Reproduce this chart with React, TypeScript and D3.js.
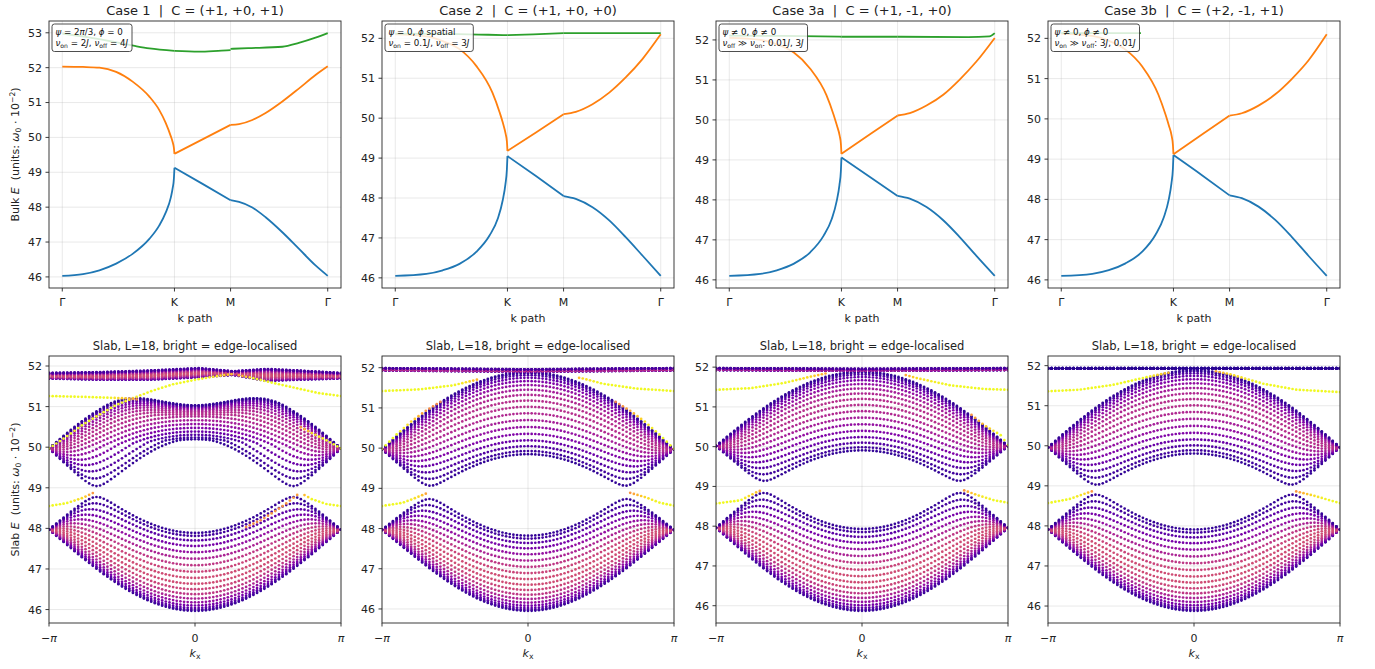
import React, { useLayoutEffect, useRef, useState, useMemo } from "react";
import * as d3 from "d3";

const FONT = "'DejaVu Sans', 'Liberation Sans', sans-serif";

// ---------------- text content ----------------
const CASE_TITLES = [
  "Case 1  |  C = (+1, +0, +1)",
  "Case 2  |  C = (+1, +0, +0)",
  "Case 3a  |  C = (+1, -1, +0)",
  "Case 3b  |  C = (+2, -1, +1)",
];
const SLAB_TITLE = "Slab, L=18, bright = edge-localised";

type Seg = [string, string]; // [text, kind] kind: n normal, i italic, s subscript, u superscript
const NOTES: Seg[][][] = [
  [
    [["ψ", "i"], [" = 2", "n"], ["π", "i"], ["/3, ", "n"], ["ϕ", "i"], [" = 0", "n"]],
    [["ν", "i"], ["on", "s"], [" = 2", "n"], ["J", "i"], [", ", "n"], ["ν", "i"], ["off", "s"], [" = 4", "n"], ["J", "i"]],
  ],
  [
    [["ψ", "i"], [" = 0, ", "n"], ["ϕ", "i"], [" spatial", "n"]],
    [["ν", "i"], ["on", "s"], [" = 0.1", "n"], ["J", "i"], [", ", "n"], ["ν", "i"], ["off", "s"], [" = 3", "n"], ["J", "i"]],
  ],
  [
    [["ψ", "i"], [" ≠ 0, ", "n"], ["ϕ", "i"], [" ≠ 0", "n"]],
    [["ν", "i"], ["off", "s"], [" ≫ ", "n"], ["ν", "i"], ["on", "s"], [": 0.01", "n"], ["J", "i"], [", 3", "n"], ["J", "i"]],
  ],
  [
    [["ψ", "i"], [" ≠ 0, ", "n"], ["ϕ", "i"], [" ≠ 0", "n"]],
    [["ν", "i"], ["on", "s"], [" ≫ ", "n"], ["ν", "i"], ["off", "s"], [": 3", "n"], ["J", "i"], [", 0.01", "n"], ["J", "i"]],
  ],
];
const BULK_YLABEL: Seg[] = [["Bulk ", "n"], ["E", "i"], ["  (units: ", "n"], ["ω", "i"], ["0", "s"], [" · 10", "n"], ["−2", "u"], [")", "n"]];
const SLAB_YLABEL: Seg[] = [["Slab ", "n"], ["E", "i"], ["  (units: ", "n"], ["ω", "i"], ["0", "s"], [" · 10", "n"], ["−2", "u"], [")", "n"]];

// ---------------- bulk bands along Γ–K–M–Γ ----------------
// x = cumulative path length (fraction of the whole path), y = energy
const PATH_TICKS = [0, 0.4226, 0.634, 1];
const PATH_LABELS = ["Γ", "K", "M", "Γ"];

type P = [number, number];
const BULK_1_LOW: P[] = [[0, 46.03], [0.078, 46.08], [0.14, 46.19], [0.203, 46.38], [0.265, 46.66], [0.328, 47.09], [0.365, 47.47], [0.39, 47.85], [0.409, 48.28], [0.416, 48.55], [0.4205, 48.82], [0.4226, 49.13], [0.53, 48.66], [0.634, 48.2], [0.666, 48.15], [0.716, 47.99], [0.766, 47.71], [0.829, 47.28], [0.891, 46.81], [0.954, 46.33], [1, 46.03]];
const BULK_1_MID: P[] = [[0, 52.03], [0.078, 52.02], [0.14, 52.0], [0.203, 51.88], [0.265, 51.6], [0.328, 51.17], [0.365, 50.79], [0.39, 50.41], [0.409, 50.03], [0.416, 49.86], [0.4205, 49.7], [0.4226, 49.53], [0.53, 49.95], [0.634, 50.36], [0.666, 50.38], [0.716, 50.5], [0.766, 50.7], [0.829, 51.03], [0.891, 51.4], [0.954, 51.79], [1, 52.04]];
const BULK_1_TOP: P[] = [[0, 52.98], [0.1, 52.87], [0.2, 52.73], [0.268, 52.63], [0.328, 52.55], [0.4226, 52.48], [0.515, 52.46], [0.6, 52.49], [0.634, 52.5], [0.634, 52.54], [0.7, 52.56], [0.829, 52.6], [0.891, 52.71], [0.954, 52.86], [1, 52.99]];

const BULK_2_LOW: P[] = [[0, 46.05], [0.117, 46.1], [0.179, 46.19], [0.242, 46.35], [0.305, 46.65], [0.355, 47.06], [0.386, 47.48], [0.405, 47.95], [0.415, 48.35], [0.4205, 48.72], [0.4226, 49.05], [0.53, 48.55], [0.634, 48.05], [0.68, 47.98], [0.743, 47.77], [0.806, 47.44], [0.868, 47.02], [0.931, 46.56], [1, 46.05]];
const BULK_2_MID: P[] = [[0, 52.1], [0.117, 52.05], [0.179, 51.93], [0.242, 51.73], [0.305, 51.31], [0.366, 50.64], [0.393, 50.15], [0.405, 49.89], [0.416, 49.6], [0.4205, 49.42], [0.4226, 49.18], [0.53, 49.64], [0.634, 50.1], [0.68, 50.16], [0.743, 50.35], [0.806, 50.64], [0.868, 51.02], [0.931, 51.48], [1, 52.1]];
const BULK_2_TOP: P[] = [[0, 52.12], [0.2, 52.11], [0.35, 52.09], [0.4226, 52.08], [0.52, 52.1], [0.634, 52.13], [0.8, 52.13], [1, 52.13]];

const BULK_3A_LOW: P[] = [[0, 46.1], [0.117, 46.15], [0.179, 46.24], [0.242, 46.4], [0.305, 46.69], [0.355, 47.1], [0.386, 47.52], [0.405, 47.98], [0.415, 48.37], [0.4205, 48.73], [0.4226, 49.06], [0.53, 48.57], [0.634, 48.1], [0.68, 48.03], [0.743, 47.82], [0.806, 47.49], [0.868, 47.07], [0.931, 46.6], [1, 46.1]];
const BULK_3A_MID: P[] = [[0, 52.05], [0.117, 52.0], [0.179, 51.89], [0.242, 51.69], [0.305, 51.28], [0.366, 50.62], [0.393, 50.13], [0.405, 49.87], [0.416, 49.6], [0.4205, 49.4], [0.4226, 49.15], [0.53, 49.64], [0.634, 50.11], [0.68, 50.17], [0.743, 50.36], [0.806, 50.63], [0.868, 51.01], [0.931, 51.46], [1, 52.05]];
const BULK_3A_TOP: P[] = [[0, 52.11], [0.2, 52.1], [0.4226, 52.08], [0.634, 52.08], [0.9, 52.07], [0.98, 52.09], [1, 52.17]];

const BULK_3B_LOW: P[] = [[0, 46.1], [0.117, 46.15], [0.179, 46.24], [0.242, 46.41], [0.305, 46.7], [0.355, 47.12], [0.386, 47.55], [0.405, 48.0], [0.415, 48.4], [0.4205, 48.76], [0.4226, 49.1], [0.53, 48.6], [0.634, 48.1], [0.68, 48.03], [0.743, 47.82], [0.806, 47.49], [0.868, 47.07], [0.931, 46.6], [1, 46.1]];
const BULK_3B_MID: P[] = [[0, 52.12], [0.117, 52.06], [0.179, 51.94], [0.242, 51.72], [0.305, 51.3], [0.366, 50.6], [0.393, 50.1], [0.405, 49.84], [0.416, 49.57], [0.4205, 49.36], [0.4226, 49.12], [0.53, 49.61], [0.634, 50.08], [0.68, 50.14], [0.743, 50.33], [0.806, 50.61], [0.868, 50.99], [0.931, 51.45], [1, 52.1]];
const BULK_3B_TOP: P[] = [[0, 52.13], [0.3, 52.13], [0.6, 52.13], [1, 52.13]];

const BULK = [
  [BULK_1_LOW, BULK_1_MID, BULK_1_TOP],
  [BULK_2_LOW, BULK_2_MID, BULK_2_TOP],
  [BULK_3A_LOW, BULK_3A_MID, BULK_3A_TOP],
  [BULK_3B_LOW, BULK_3B_MID, BULK_3B_TOP],
];
const BAND_COLORS = ["#1f77b4", "#ff7f0e", "#2ca02c"];

// ---------------- slab (ribbon) spectrum ----------------
// Ribbon of L unit cells, standing-wave phases θn = nπ/(L+1).
// Each dispersive group: E = g(s) + h(s)·cos kx, with s = |1 + 2cos(kx/2)e^{iθ}|,
// g and h given at s = 0, 1, 2, 3.
const SLAB_L = 18;
const SLAB_NK = 81;
const S_KNOTS = [0, 1, 2, 3];
const SLAB_LOWER_G = [
  [48.92, 47.942, 46.964, 45.986],
  [48.86, 47.908, 46.956, 46.004],
  [49.008, 47.959, 46.91, 45.861],
  [48.958, 47.924, 46.89, 45.856],
];
const SLAB_LOWER_H = [
  [-0.027, -0.027, -0.027, -0.027],
  [-0.06, -0.06, -0.06, -0.06],
  [0, 0, 0, 0],
  [0.014, 0.014, 0.014, 0.014],
];
const SLAB_MIDDLE_G = [
  [48.85, 50.075, 50.855, 51.635],
  [48.857, 49.896, 50.935, 51.974],
  [48.94, 49.948, 50.956, 51.964],
  [48.81, 49.869, 50.928, 51.987],
];
const SLAB_MIDDLE_H = [
  [0, 0.105, -0.1, -0.6],
  [-0.074, -0.074, -0.074, -0.074],
  [-0.068, -0.068, -0.068, -0.068],
  [-0.09, -0.09, -0.09, -0.09],
];
// narrow upper group: centre and half-width vs kx/π
const SLAB_FLAT_KX = [
  [-1, -0.65, -0.31, 0.03, 0.26, 0.49, 0.71, 1],
  [-1, 0, 1],
  [-1, 0, 1],
  [-1, 0, 1],
];
const SLAB_FLAT_CENTER = [
  [51.76, 51.755, 51.775, 51.835, 51.825, 51.78, 51.775, 51.76],
  [51.96, 51.93, 51.96],
  [51.95, 51.93, 51.95],
  [51.93, 51.93, 51.93],
];
const SLAB_FLAT_HALF = [
  [0.07, 0.095, 0.115, 0.115, 0.045, 0.15, 0.115, 0.07],
  [0.03, 0.03, 0.03],
  [0.025, 0.025, 0.025],
  [0.008, 0.008, 0.008],
];
// edge weight = base + amp·sin²θ  for [lower, middle, upper] groups
const SLAB_WEIGHT = [
  [[0.06, 0.46], [0.06, 0.36], [0.1, 0.42]],
  [[0.06, 0.46], [0.06, 0.36], [0.1, 0.36]],
  [[0.06, 0.46], [0.06, 0.36], [0.1, 0.32]],
  [[0.06, 0.46], [0.06, 0.36], [0.04, 0.08]],
];

// edge-localised branches: [kx/π, E, edge weight]
type EP = [number, number, number];
const EDGE_1: EP[][] = [
  [[-1, 49.97, 1], [-0.88, 50.26, 1], [-0.77, 50.55, 1], [-0.66, 50.79, 1], [-0.54, 51.04, 1], [-0.43, 51.2, 0.96], [-0.3, 51.38, 1], [-0.15, 51.55, 1], [0, 51.66, 1], [0.15, 51.75, 0.96], [0.25, 51.8, 0.85]],
  [[-1, 51.26, 1], [-0.77, 51.24, 1], [-0.6, 51.22, 1], [-0.45, 51.2, 0.85], [-0.4, 51.18, 0.7]],
  [[0.3, 51.77, 0.8], [0.4, 51.7, 1], [0.55, 51.57, 1], [0.7, 51.45, 1], [0.85, 51.33, 1], [1, 51.26, 1]],
  [[0.72, 50.5, 0.75], [0.8, 50.35, 0.92], [0.9, 50.17, 1], [1, 49.97, 1]],
  [[-1, 48.55, 1], [-0.88, 48.62, 1], [-0.77, 48.75, 0.92], [-0.7, 48.87, 0.75]],
  [[0.33, 48.0, 0.7], [0.45, 48.2, 0.72], [0.535, 48.39, 0.75], [0.62, 48.6, 0.75], [0.72, 48.88, 0.78]],
  [[0.74, 48.84, 0.82], [0.8, 48.72, 1], [0.9, 48.6, 1], [1, 48.55, 1]],
];
const EDGE_2: EP[][] = [
  [[-1, 51.42, 1], [-0.744, 51.46, 1], [-0.515, 51.56, 1], [-0.4, 51.66, 0.92], [-0.33, 51.72, 0.8]],
  [[0.33, 51.76, 0.8], [0.378, 51.73, 0.94], [0.515, 51.6, 1], [0.744, 51.48, 1], [1, 51.42, 1]],
  [[-1, 49.98, 1], [-0.9, 50.34, 1], [-0.8, 50.66, 0.92], [-0.7, 50.93, 0.75], [-0.6, 51.15, 0.7]],
  [[0.6, 51.15, 0.7], [0.7, 50.93, 0.8], [0.8, 50.66, 0.94], [0.9, 50.34, 1], [1, 49.98, 1]],
  [[-1, 48.56, 1], [-0.858, 48.64, 1], [-0.744, 48.8, 0.92], [-0.686, 48.89, 0.75]],
  [[0.698, 48.89, 0.75], [0.812, 48.77, 0.94], [0.904, 48.64, 1], [1, 48.57, 1]],
];
const EDGE_3A: EP[][] = [
  [[-1, 51.43, 1], [-0.764, 51.47, 1], [-0.535, 51.6, 1], [-0.352, 51.76, 0.92], [-0.25, 51.84, 0.8]],
  [[0.3, 51.8, 0.8], [0.38, 51.72, 0.94], [0.609, 51.54, 1], [0.837, 51.45, 1], [1, 51.43, 1]],
  [[0.75, 50.8, 0.75], [0.837, 50.54, 0.86], [0.95, 50.29, 1], [1, 50.04, 1]],
  [[-1, 48.57, 1], [-0.833, 48.65, 1], [-0.719, 48.86, 0.86], [-0.69, 48.9, 0.75]],
  [[0.7, 48.9, 0.75], [0.792, 48.78, 0.94], [0.906, 48.65, 1], [1, 48.59, 1]],
];
const EDGE_3B: EP[][] = [
  [[-1, 51.36, 1], [-0.783, 51.4, 1], [-0.555, 51.52, 1], [-0.327, 51.71, 1], [-0.166, 51.83, 0.86]],
  [[0.15, 51.86, 0.8], [0.244, 51.79, 0.92], [0.473, 51.55, 1], [0.7, 51.4, 1], [1, 51.34, 1]],
  [[-1, 48.57, 1], [-0.852, 48.67, 1], [-0.737, 48.82, 0.92], [-0.7, 48.86, 0.75]],
  [[0.7, 48.86, 0.75], [0.815, 48.76, 0.94], [0.93, 48.64, 1], [1, 48.57, 1]],
];
const EDGES = [EDGE_1, EDGE_2, EDGE_3A, EDGE_3B];

// ---------------- layout ----------------
const W = 1375;
const H = 669;
const COL_LEFT = [49, 382, 716, 1048];
const PANEL_W = 292;
const TOP_Y0 = 21;
const TOP_H = 267;
const BOT_Y0 = 356;
const BOT_H = 267;
const TICK = 3.5;
const GRID = "#b0b0b0";
const SPINE = "#262626";
const DOT_R = 1.35;

type Dot = { kx: number; e: number; w: number };

function slabStates(ci: number): { bulk: Dot[]; edge: Dot[] } {
  const gL = d3.scaleLinear(S_KNOTS, SLAB_LOWER_G[ci]);
  const hL = d3.scaleLinear(S_KNOTS, SLAB_LOWER_H[ci]);
  const gM = d3.scaleLinear(S_KNOTS, SLAB_MIDDLE_G[ci]);
  const hM = d3.scaleLinear(S_KNOTS, SLAB_MIDDLE_H[ci]);
  const fC = d3.scaleLinear(SLAB_FLAT_KX[ci], SLAB_FLAT_CENTER[ci]);
  const fH = d3.scaleLinear(SLAB_FLAT_KX[ci], SLAB_FLAT_HALF[ci]);
  const [wl, wm, wf] = SLAB_WEIGHT[ci];
  const bulk: Dot[] = [];
  const kxs = d3.range(SLAB_NK).map((i) => -Math.PI + (2 * Math.PI * i) / (SLAB_NK - 1));
  for (const kx of kxs) {
    const cp = Math.cos(kx / 2);
    const ck = Math.cos(kx);
    const col: Dot[] = [];
    for (let n = 1; n <= SLAB_L; n++) {
      const th = (n * Math.PI) / (SLAB_L + 1);
      const s = Math.sqrt(Math.max(0, 1 + 4 * cp * cp + 4 * cp * Math.cos(th)));
      const sn2 = Math.sin(th) ** 2;
      col.push({ kx, e: gL(s) + hL(s) * ck, w: wl[0] + wl[1] * sn2 });
      col.push({ kx, e: gM(s) + hM(s) * ck, w: wm[0] + wm[1] * sn2 });
      col.push({ kx, e: fC(kx / Math.PI) + fH(kx / Math.PI) * Math.cos(th), w: wf[0] + wf[1] * sn2 });
    }
    col.sort((a, b) => a.e - b.e);
    bulk.push(...col);
  }
  const edge: Dot[] = [];
  for (const br of EDGES[ci]) {
    const ks = br.map((d) => d[0]);
    const eS = d3.scaleLinear(ks, br.map((d) => d[1]));
    const wS = d3.scaleLinear(ks, br.map((d) => d[2]));
    for (const kx of kxs) {
      const u = kx / Math.PI;
      if (u >= ks[0] - 1e-9 && u <= ks[ks.length - 1] + 1e-9) {
        edge.push({ kx, e: eS(u), w: wS(u) });
      }
    }
  }
  return { bulk, edge };
}

function MathSegs({ segs, size }: { segs: Seg[]; size: number }) {
  const out: React.ReactNode[] = [];
  let shift = 0;
  segs.forEach(([t, k], j) => {
    if (k === "s" || k === "u") {
      const dy = k === "s" ? size * 0.22 : -size * 0.38;
      out.push(
        <tspan key={j} dy={dy - shift} fontSize={size * 0.7}>
          {t}
        </tspan>
      );
      shift = dy;
    } else {
      out.push(
        <tspan key={j} dy={-shift} fontStyle={k === "i" ? "italic" : "normal"} fontSize={size}>
          {t}
        </tspan>
      );
      shift = 0;
    }
  });
  return <>{out}</>;
}

function NoteBox({ x, y, lines }: { x: number; y: number; lines: Seg[][] }) {
  const ref = useRef<SVGGElement>(null);
  const [bw, setBw] = useState(0);
  useLayoutEffect(() => {
    if (ref.current) setBw(ref.current.getBBox().width);
  }, []);
  return (
    <g>
      {bw > 0 && (
        <rect x={x} y={y} width={bw + 7} height={27.5} rx={2.5} fill="#fff" fillOpacity={0.82} stroke="#3a3a3a" strokeWidth={0.9} />
      )}
      <g ref={ref}>
        {lines.map((ln, i) => (
          <text key={i} x={x + 3.5} y={y + 10.5 + i * 11.5} fontSize={8.7} fill="#111" style={{ whiteSpace: "pre" }}>
            <MathSegs segs={ln} size={8.7} />
          </text>
        ))}
      </g>
    </g>
  );
}

function BulkPanel({ ci }: { ci: number }) {
  const x0 = COL_LEFT[ci];
  const bands = BULK[ci];
  const vals = bands.flat().map((d) => d[1]);
  const lo = d3.min(vals) as number;
  const hi = d3.max(vals) as number;
  const pad = (hi - lo) * 0.05;
  const y = d3.scaleLinear([lo - pad, hi + pad], [TOP_Y0 + TOP_H, TOP_Y0]);
  const x = d3.scaleLinear([-0.05, 1.05], [x0, x0 + PANEL_W]);
  const yt = d3.range(Math.ceil(lo - pad), Math.floor(hi + pad) + 1);
  const line = d3
    .line<P>()
    .x((d) => x(d[0]))
    .y((d) => y(d[1]))
    .curve(d3.curveMonotoneX);
  const pieces = (pts: P[]) =>
    PATH_TICKS.slice(0, -1).map((a, j) => {
      const b = PATH_TICKS[j + 1];
      const seg = pts.filter((p) => p[0] >= a - 1e-9 && p[0] <= b + 1e-9);
      // at a duplicated M node keep the left value for K–M and the right value for M–Γ
      if (j === 1) return seg.filter((p, k) => !(p[0] === b && k > 0 && seg[k - 1][0] === b));
      if (j === 2) return seg.filter((p, k) => !(p[0] === a && k + 1 < seg.length && seg[k + 1][0] === a));
      return seg;
    });
  const clip = `bulk-clip-${ci}`;
  return (
    <g>
      <defs>
        <clipPath id={clip}>
          <rect x={x0} y={TOP_Y0} width={PANEL_W} height={TOP_H} />
        </clipPath>
      </defs>
      {yt.map((v) => (
        <line key={"gy" + v} x1={x0} x2={x0 + PANEL_W} y1={y(v)} y2={y(v)} stroke={GRID} strokeOpacity={0.35} strokeWidth={0.8} />
      ))}
      {PATH_TICKS.map((v, i) => (
        <line key={"gx" + i} x1={x(v)} x2={x(v)} y1={TOP_Y0} y2={TOP_Y0 + TOP_H} stroke={GRID} strokeOpacity={0.35} strokeWidth={0.8} />
      ))}
      <g clipPath={`url(#${clip})`}>
        {bands.map((pts, b) =>
          pieces(pts).map((seg, j) => (
            <path key={b + "-" + j} d={line(seg) || ""} fill="none" stroke={BAND_COLORS[b]} strokeWidth={1.8} strokeLinejoin="round" />
          ))
        )}
      </g>
      <rect x={x0} y={TOP_Y0} width={PANEL_W} height={TOP_H} fill="none" stroke={SPINE} strokeWidth={0.9} />
      {yt.map((v) => (
        <g key={"ty" + v}>
          <line x1={x0 - TICK} x2={x0} y1={y(v)} y2={y(v)} stroke={SPINE} strokeWidth={0.9} />
          <text x={x0 - TICK - 3.5} y={y(v)} dy="0.36em" textAnchor="end" fontSize={11} fill="#222">
            {v}
          </text>
        </g>
      ))}
      {PATH_TICKS.map((v, i) => (
        <g key={"tx" + i}>
          <line x1={x(v)} x2={x(v)} y1={TOP_Y0 + TOP_H} y2={TOP_Y0 + TOP_H + TICK} stroke={SPINE} strokeWidth={0.9} />
          <text x={x(v)} y={305.5} textAnchor="middle" fontSize={11} fill="#222">
            {PATH_LABELS[i]}
          </text>
        </g>
      ))}
      <text x={x0 + PANEL_W / 2} y={322} textAnchor="middle" fontSize={11} fill="#222">
        k path
      </text>
      <text x={x0 + PANEL_W / 2} y={15} textAnchor="middle" fontSize={13} fill="#222" style={{ whiteSpace: "pre" }}>
        {CASE_TITLES[ci]}
      </text>
      <NoteBox x={x0 + 3} y={TOP_Y0 + 3} lines={NOTES[ci]} />
    </g>
  );
}

function SlabPanel({ ci }: { ci: number }) {
  const x0 = COL_LEFT[ci];
  const { bulk, edge } = useMemo(() => slabStates(ci), [ci]);
  const es = [...bulk, ...edge].map((d) => d.e);
  const lo = d3.min(es) as number;
  const hi = d3.max(es) as number;
  const pad = (hi - lo) * 0.05;
  const y = d3.scaleLinear([lo - pad, hi + pad], [BOT_Y0 + BOT_H, BOT_Y0]);
  const x = d3.scaleLinear([-Math.PI, Math.PI], [x0, x0 + PANEL_W]);
  const yt = d3.range(Math.ceil(lo - pad), Math.floor(hi + pad) + 1);
  const xt = [-Math.PI, 0, Math.PI];
  const xl: Seg[][] = [[["−", "n"], ["π", "i"]], [["0", "n"]], [["π", "i"]]];
  const clip = `slab-clip-${ci}`;
  const color = d3.interpolatePlasma;
  return (
    <g>
      <defs>
        <clipPath id={clip}>
          <rect x={x0} y={BOT_Y0} width={PANEL_W} height={BOT_H} />
        </clipPath>
      </defs>
      {yt.map((v) => (
        <line key={"gy" + v} x1={x0} x2={x0 + PANEL_W} y1={y(v)} y2={y(v)} stroke={GRID} strokeOpacity={0.35} strokeWidth={0.8} />
      ))}
      {xt.map((v, i) => (
        <line key={"gx" + i} x1={x(v)} x2={x(v)} y1={BOT_Y0} y2={BOT_Y0 + BOT_H} stroke={GRID} strokeOpacity={0.35} strokeWidth={0.8} />
      ))}
      <g clipPath={`url(#${clip})`}>
        {bulk.map((d, i) => (
          <circle key={"b" + i} cx={x(d.kx)} cy={y(d.e)} r={DOT_R} fill={color(d.w)} />
        ))}
        {edge.map((d, i) => (
          <circle key={"e" + i} cx={x(d.kx)} cy={y(d.e)} r={DOT_R} fill={color(d.w)} />
        ))}
      </g>
      <rect x={x0} y={BOT_Y0} width={PANEL_W} height={BOT_H} fill="none" stroke={SPINE} strokeWidth={0.9} />
      {yt.map((v) => (
        <g key={"ty" + v}>
          <line x1={x0 - TICK} x2={x0} y1={y(v)} y2={y(v)} stroke={SPINE} strokeWidth={0.9} />
          <text x={x0 - TICK - 3.5} y={y(v)} dy="0.36em" textAnchor="end" fontSize={11} fill="#222">
            {v}
          </text>
        </g>
      ))}
      {xt.map((v, i) => (
        <g key={"tx" + i}>
          <line x1={x(v)} x2={x(v)} y1={BOT_Y0 + BOT_H} y2={BOT_Y0 + BOT_H + TICK} stroke={SPINE} strokeWidth={0.9} />
          <text x={x(v)} y={641.5} textAnchor="middle" fontSize={11} fill="#222">
            <MathSegs segs={xl[i]} size={11} />
          </text>
        </g>
      ))}
      <text x={x0 + PANEL_W / 2} y={657} textAnchor="middle" fontSize={11} fill="#222">
        <MathSegs segs={[["k", "i"], ["x", "s"]]} size={11} />
      </text>
      <text x={x0 + PANEL_W / 2} y={350} textAnchor="middle" fontSize={11.5} fill="#222">
        {SLAB_TITLE}
      </text>
    </g>
  );
}

export default function App() {
  return (
    <svg
      width={W}
      height={H}
      viewBox={`0 0 ${W} ${H}`}
      style={{ position: "absolute", left: 0, top: 0, background: "#fff" }}
      fontFamily={FONT}
    >
      <rect width={W} height={H} fill="#fff" />
      {[0, 1, 2, 3].map((ci) => (
        <BulkPanel key={"t" + ci} ci={ci} />
      ))}
      {[0, 1, 2, 3].map((ci) => (
        <SlabPanel key={"s" + ci} ci={ci} />
      ))}
      <text transform={`translate(19, ${TOP_Y0 + TOP_H / 2}) rotate(-90)`} textAnchor="middle" fontSize={11} fill="#222" style={{ whiteSpace: "pre" }}>
        <MathSegs segs={BULK_YLABEL} size={11} />
      </text>
      <text transform={`translate(19, ${BOT_Y0 + BOT_H / 2}) rotate(-90)`} textAnchor="middle" fontSize={11} fill="#222" style={{ whiteSpace: "pre" }}>
        <MathSegs segs={SLAB_YLABEL} size={11} />
      </text>
    </svg>
  );
}
